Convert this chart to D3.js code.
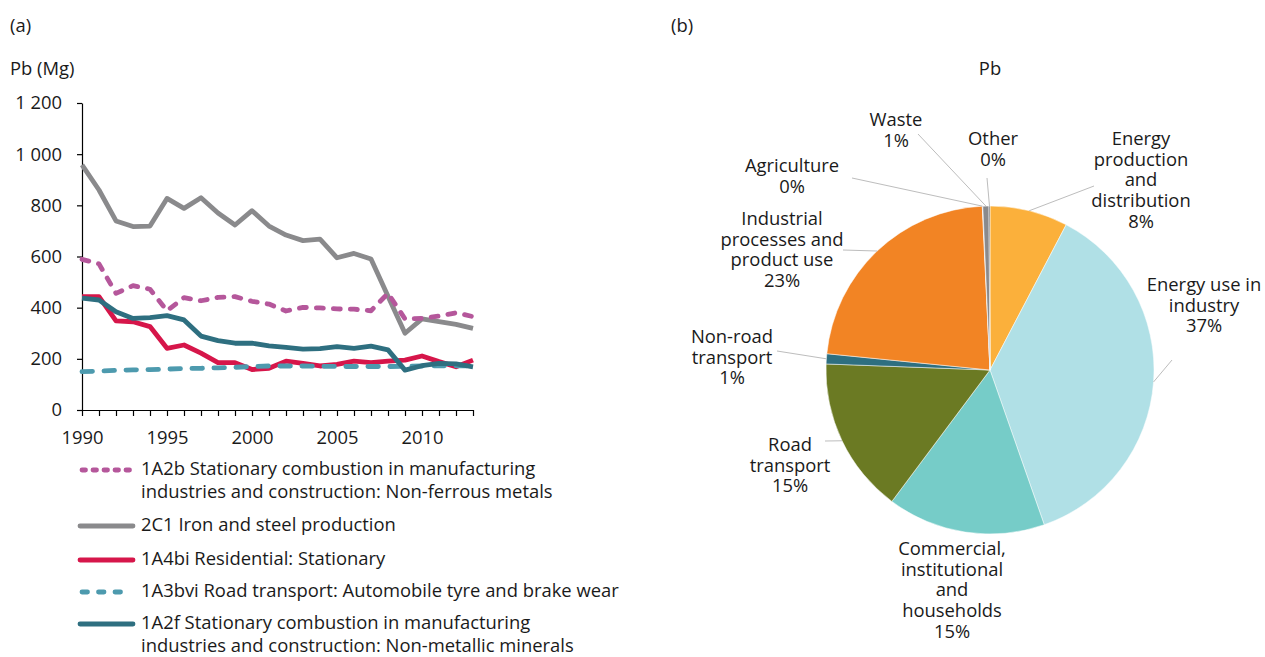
<!DOCTYPE html>
<html>
<head>
<meta charset="utf-8">
<script src="https://cdn.jsdelivr.net/npm/d3@7"></script>
<style>
body { margin: 0; background: #fff; font-family: 'Open Sans', sans-serif; }
svg text { fill: #1a1a1a; font-family: 'Open Sans', sans-serif; }
</style>
</head>
<body>
<script>
const years = d3.range(1990, 2014);

const nonFerrous = [589, 571, 456, 486, 472, 388, 439, 427, 440, 443, 425, 414, 387, 401, 399, 395, 394, 388, 456, 356, 358, 367, 380, 365];
const ironSteel = [958, 860, 739, 717, 719, 827, 788, 830, 770, 723, 779, 719, 684, 662, 668, 595, 612, 590, 445, 300, 356, 345, 335, 319];
const residential = [443, 443, 348, 345, 326, 241, 254, 222, 185, 185, 158, 163, 191, 182, 172, 178, 191, 185, 191, 195, 211, 189, 169, 195];
const roadWear = [150, 152, 155, 157, 158, 160, 162, 163, 165, 167, 170, 172, 172, 172, 171, 170, 170, 170, 170, 171, 172, 173, 173, 172];
const nonMetallic = [437, 430, 384, 358, 361, 369, 352, 289, 271, 261, 261, 251, 245, 238, 240, 248, 241, 250, 235, 156, 173, 182, 180, 169];

const yTicks = [0, 200, 400, 600, 800, 1000, 1200];
const xTicks = [1990, 1995, 2000, 2005, 2010];

const pieNames = [
  ['Energy', 'production', 'and', 'distribution'],
  ['Energy use in', 'industry'],
  ['Commercial,', 'institutional', 'and', 'households'],
  ['Road', 'transport'],
  ['Non-road', 'transport'],
  ['Industrial', 'processes and', 'product use'],
  ['Agriculture'],
  ['Waste'],
  ['Other']
];
const pieValues = [7.7, 37.0, 15.6, 15.4, 1.0, 22.7, 0.05, 0.6, 0.1];
const pieLabels = ['8%', '37%', '15%', '15%', '1%', '23%', '0%', '1%', '0%'];

const fs = '18.4px';

const svg = d3.select('body').append('svg')
  .attr('width', 1265)
  .attr('height', 657);

svg.append('text').attr('x', 10).attr('y', 32).style('font-size', fs).text('(a)');
svg.append('text').attr('x', 671).attr('y', 32).style('font-size', fs).text('(b)');
svg.append('text').attr('x', 10).attr('y', 75).style('font-size', fs).text('Pb (Mg)');

// ---- line chart
const x = d3.scaleLinear().domain([1990, 2013]).range([82, 473]);
const y = d3.scaleLinear().domain([0, 1200]).range([410, 103]);
const fmt = d3.formatLocale({ decimal: '.', thousands: ' ', grouping: [3], currency: ['', ''] }).format(',d');

const yAxis = svg.append('g')
  .attr('transform', 'translate(82,0)')
  .call(d3.axisLeft(y).tickValues(yTicks).tickFormat(fmt).tickSize(5).tickSizeOuter(0));
yAxis.selectAll('text').style('font-size', fs).attr('x', -20);

const xAxis = svg.append('g')
  .attr('transform', 'translate(0,410)')
  .call(d3.axisBottom(x).tickValues(years).tickFormat(d => xTicks.includes(d) ? d : '').tickSize(6).tickSizeOuter(0));
xAxis.selectAll('text').style('font-size', fs).attr('y', 21);

svg.selectAll('.domain, .tick line').attr('stroke', '#000').attr('stroke-width', 1.2);

const series = [
  { name: ['2C1 Iron and steel production'], values: ironSteel, color: '#8a8a8c', dash: null, legDash: null },
  { name: ['1A4bi Residential: Stationary'], values: residential, color: '#d6164a', dash: null, legDash: null },
  { name: ['1A3bvi Road transport: Automobile tyre and brake wear'], values: roadWear, color: '#4d9aae', dash: '10.5,11.5', legDash: '5.5,11' },
  { name: ['1A2f Stationary combustion in manufacturing', 'industries and construction: Non-metallic minerals'], values: nonMetallic, color: '#2e6f80', dash: null, legDash: null },
  { name: ['1A2b Stationary combustion in manufacturing', 'industries and construction: Non-ferrous metals'], values: nonFerrous, color: '#b5579b', dash: '7,10', legDash: '3.5,7.5' }
];

const line = d3.line().x((d, i) => x(years[i])).y(d => y(d));

svg.append('g').selectAll('path')
  .data(series)
  .enter()
  .append('path')
  .attr('d', d => line(d.values))
  .attr('fill', 'none')
  .attr('stroke', d => d.color)
  .attr('stroke-width', 4.8)
  .attr('stroke-linejoin', 'round')
  .attr('stroke-linecap', d => d.dash ? 'round' : 'butt')
  .attr('stroke-dasharray', d => d.dash);

// legend
const legendOrder = [series[4], series[0], series[1], series[2], series[3]];
const legendY = [470, 526, 560, 592, 624];
const legend = svg.append('g');
legendOrder.forEach((s, i) => {
  const g = legend.append('g').attr('transform', `translate(0,${legendY[i]})`);
  g.append('line')
    .attr('x1', s.dash ? 82 : 80).attr('x2', s.dash ? 131 : 133)
    .attr('stroke', s.color).attr('stroke-width', 4.8)
    .attr('stroke-linecap', 'round')
    .attr('stroke-dasharray', s.legDash);
  s.name.forEach((t, j) => {
    g.append('text').attr('x', 141).attr('y', 5 + j * 23).style('font-size', fs).text(t);
  });
});

// ---- pie chart
const cx = 990, cy = 370, r = 164;
svg.append('text').attr('x', cx).attr('y', 75).attr('text-anchor', 'middle').style('font-size', fs).text('Pb');

const pie = d3.pie().sort(null).value(d => d)(pieValues);
const arc = d3.arc().innerRadius(0).outerRadius(r);
const pieColors = ['#fbb03b', '#b0e0e6', '#76ccc8', '#6b7a23', '#2e6f80', '#f28424', '#c8c8c8', '#8a8a8c', '#5a5a5a'];

const pg = svg.append('g').attr('transform', `translate(${cx},${cy})`);
pg.selectAll('path')
  .data(pie)
  .enter()
  .append('path')
  .attr('d', arc)
  .attr('fill', (d, i) => pieColors[i])
  .attr('stroke', '#fff')
  .attr('stroke-width', 0.5);

// label layout: text centre and leader end, relative to pie centre
const labelPos = [
  { x: 151, y: -231, lx: 104, ly: -184 },
  { x: 214, y: -85, lx: 182, ly: -10 },
  { x: -38, y: 179, lx: null },
  { x: -200, y: 75, lx: -165, ly: 71 },
  { x: -258, y: -33, lx: -213, ly: -19 },
  { x: -208, y: -151, lx: -147, ly: -120 },
  { x: -198, y: -204, lx: -138, ly: -192 },
  { x: -94, y: -250, lx: -72, ly: -236 },
  { x: 3, y: -231, lx: -3, ly: -192 }
];

pie.forEach((d, i) => {
  const p = labelPos[i];
  const mid = (d.startAngle + d.endAngle) / 2;
  if (p.lx !== null) {
    pg.append('line')
      .attr('x1', Math.sin(mid) * r).attr('y1', -Math.cos(mid) * r)
      .attr('x2', p.lx).attr('y2', p.ly)
      .attr('stroke', '#bdbdbd').attr('stroke-width', 1);
  }
  const lines = pieNames[i].concat([pieLabels[i]]);
  const t = pg.append('text').attr('text-anchor', 'middle').style('font-size', fs);
  lines.forEach((s, j) => {
    t.append('tspan').attr('x', p.x).attr('y', p.y + 6 + j * 20.7).text(s);
  });
});
</script>
</body>
</html>
